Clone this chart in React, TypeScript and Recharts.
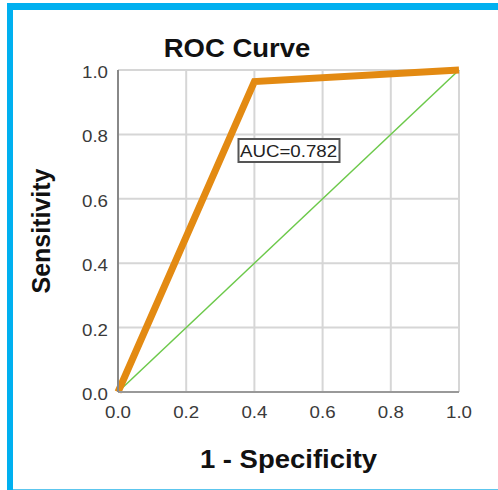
import { LineChart, Line, XAxis, YAxis, CartesianGrid, ReferenceDot } from "recharts"

// ROC curve points (1 - specificity, sensitivity)
const rocFpr = [0, 0.4, 1]
const rocTpr = [0, 0.964, 1]
// chance diagonal
const diagFpr = [0, 1]
const diagTpr = [0, 1]
const axisTicks = [0, 0.2, 0.4, 0.6, 0.8, 1]
const aucText = "AUC=0.782"
const aucPos = { x: 0.5, y: 0.75 }

const rocData = rocFpr.map((x, i) => ({ x, y: rocTpr[i] }))
const diagData = diagFpr.map((x, i) => ({ x, y: diagTpr[i] }))

const FONT = '"Liberation Sans", Arial, sans-serif'
const STRETCH = 1.1

const XTick = ({ x, y, payload }: any) => (
  <text
    transform={`translate(${x},${y}) scale(${STRETCH},1)`}
    dy={16}
    textAnchor="middle"
    fontSize={17}
    fontFamily={FONT}
    fill="#3a3a3a"
  >
    {Number(payload.value).toFixed(1)}
  </text>
)

const YTick = ({ x, y, payload }: any) => (
  <text
    transform={`translate(${x},${y}) scale(${STRETCH},1)`}
    dy={8}
    textAnchor="end"
    fontSize={17}
    fontFamily={FONT}
    fill="#3a3a3a"
  >
    {Number(payload.value).toFixed(1)}
  </text>
)

const XTitle = ({ viewBox }: any) => (
  <text
    transform={`translate(${viewBox.x + viewBox.width / 2},${viewBox.y + 76}) scale(${STRETCH},1)`}
    textAnchor="middle"
    fontSize={25}
    fontWeight="bold"
    fontFamily={FONT}
    fill="#111"
  >
    1 - Specificity
  </text>
)

const YTitle = ({ viewBox }: any) => (
  <text
    transform={`translate(${viewBox.x + 50},${viewBox.y + viewBox.height / 2}) rotate(-90)`}
    textAnchor="middle"
    fontSize={25}
    fontWeight="bold"
    fontFamily={FONT}
    fill="#111"
  >
    Sensitivity
  </text>
)

const AucBox = ({ cx, cy }: any) => (
  <g>
    <rect x={cx - 50} y={cy - 11.5} width={101} height={23} fill="#fff" stroke="#555" strokeWidth={2} />
    <text
      transform={`translate(${cx},${cy}) scale(${STRETCH},1)`}
      dy={6}
      textAnchor="middle"
      fontSize={17}
      fontFamily={FONT}
      fill="#222"
    >
      {aucText}
    </text>
  </g>
)

export default function App() {
  return (
    <div style={{ position: "absolute", left: 0, top: 0, width: 498, height: 490, background: "#fff", overflow: "hidden" }}>
      <div style={{ position: "absolute", left: 7, top: 3, width: 491, height: 7, background: "#00b0f0" }} />
      <div style={{ position: "absolute", left: 7, top: 3, width: 6, height: 487, background: "#00b0f0" }} />
      <div style={{ position: "absolute", left: 13, top: 489, width: 485, height: 1, background: "#5cc6ee" }} />
      <div
        style={{
          position: "absolute",
          left: 137,
          top: 36,
          width: 200,
          textAlign: "center",
          fontFamily: FONT,
          fontWeight: "bold",
          fontSize: 25,
          lineHeight: "25px",
          color: "#111",
          transform: `scaleX(${STRETCH})`,
        }}
      >
        ROC Curve
      </div>
      <LineChart width={498} height={490} margin={{ top: 70, right: 39, bottom: 0, left: 0 }} style={{ position: "absolute", left: 0, top: 0 }}>
        <CartesianGrid stroke="#d6d6d6" strokeWidth={2} />
        <XAxis
          dataKey="x"
          type="number"
          domain={[0, 1]}
          ticks={axisTicks}
          height={98}
          tickLine={false}
          tickSize={0}
          tickMargin={10}
          tick={<XTick />}
          axisLine={{ stroke: "#999", strokeWidth: 2 }}
          allowDuplicatedCategory={false}
          label={{ content: XTitle }}
        />
        <YAxis
          dataKey="y"
          type="number"
          domain={[0, 1]}
          ticks={axisTicks}
          width={118}
          tickLine={false}
          tickSize={0}
          tickMargin={10}
          tick={<YTick />}
          axisLine={{ stroke: "#888", strokeWidth: 2 }}
          label={{ content: YTitle }}
        />
        <Line data={diagData} dataKey="y" type="linear" stroke="#6cc94a" strokeWidth={1.5} dot={false} isAnimationActive={false} />
        <Line data={rocData} dataKey="y" type="linear" stroke="#e38a12" strokeWidth={7} dot={false} isAnimationActive={false} />
        <ReferenceDot x={aucPos.x} y={aucPos.y} r={0} shape={AucBox} />
      </LineChart>
    </div>
  )
}
